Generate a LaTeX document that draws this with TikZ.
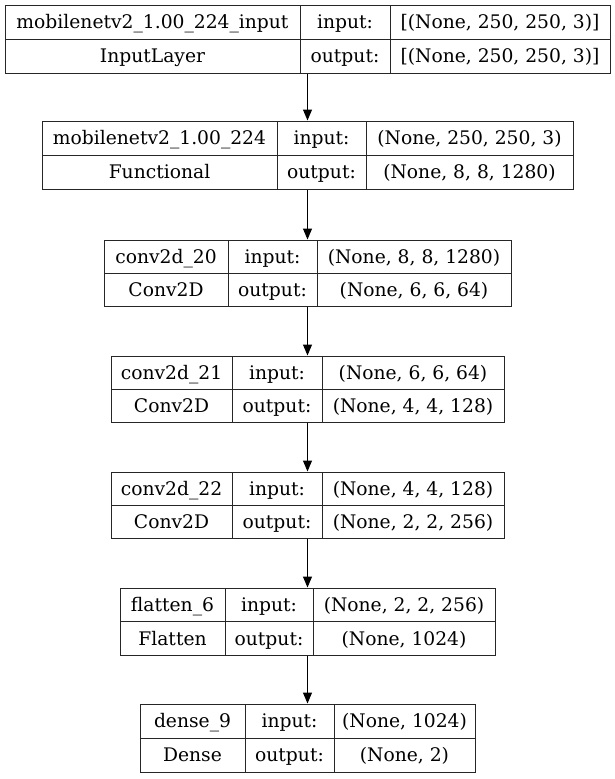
\documentclass[tikz,border=0pt]{standalone}
\usepackage{fontspec}
\setmainfont{DejaVu Serif}
\usetikzlibrary{arrows.meta}
\newcommand{\gxa}{0}\newcommand{\gya}{0}\newcommand{\gxb}{0}\newcommand{\gyb}{0}\newcommand{\gda}{0}\newcommand{\gdb}{0}
% geometry: \lgeom{x1}{y1}{x2}{y2}{d1}{d2}
\newcommand{\lgeom}[6]{\renewcommand{\gxa}{#1}\renewcommand{\gya}{#2}\renewcommand{\gxb}{#3}\renewcommand{\gyb}{#4}\renewcommand{\gda}{#5}\renewcommand{\gdb}{#6}}
% \lbox{name}{name text}{type}{in}{out}
\newcommand{\lbox}[5]{%
  \node[box, minimum width={\gxb-\gxa}, minimum height={\gyb-\gya}] (#1) at ({(\gxa+\gxb)/2},{(\gya+\gyb)/2}) {};
  \draw[divl] (\gxa,{(\gya+\gyb)/2}) -- (\gxb,{(\gya+\gyb)/2});
  \draw[divl] (\gda,\gya) -- (\gda,\gyb);
  \draw[divl] (\gdb,\gya) -- (\gdb,\gyb);
  \node[cell] (#1-n) at ({(\gxa+\gda)/2},{\gya+(\gyb-\gya)/4+6.8}) {#2};
  \node[cell] (#1-t) at ({(\gxa+\gda)/2},{\gya+3*(\gyb-\gya)/4+6.8}) {#3};
  \node[cell] (#1-il) at ({(\gda+\gdb)/2},{\gya+(\gyb-\gya)/4+6.8}) {input:};
  \node[cell] (#1-ol) at ({(\gda+\gdb)/2},{\gya+3*(\gyb-\gya)/4+6.8}) {output:};
  \node[cell] (#1-iv) at ({(\gdb+\gxb)/2},{\gya+(\gyb-\gya)/4+6.8}) {#4};
  \node[cell] (#1-ov) at ({(\gdb+\gxb)/2},{\gya+3*(\gyb-\gya)/4+6.8}) {#5};
}
\begin{document}
\begin{tikzpicture}[x=1pt,y=-1pt,
  box/.style={draw=black!85, line width=1pt, rectangle, inner sep=0pt},
  cell/.style={font=\fontsize{18.7}{20}\selectfont, inner sep=0pt, anchor=base},
  divl/.style={draw=black!85, line width=1pt},
  arr/.style={draw=black, line width=1pt, -{Triangle[width=9pt,length=11pt]}}]
\useasboundingbox (0,0) rectangle (615,779);
\lgeom{5}{5}{610}{73}{300}{390}
\lbox{b1}{mobilenetv2\_1.00\_224\_input}{InputLayer}{[(None, 250, 250, 3)]}{[(None, 250, 250, 3)]}
\lgeom{42}{121}{573}{189}{277}{366}
\lbox{b2}{mobilenetv2\_1.00\_224}{Functional}{(None, 250, 250, 3)}{(None, 8, 8, 1280)}
\lgeom{104}{240}{511}{306}{228}{317}
\lbox{b3}{conv2d\_20}{Conv2D}{(None, 8, 8, 1280)}{(None, 6, 6, 64)}
\lgeom{111}{356}{504}{422}{232}{322}
\lbox{b4}{conv2d\_21}{Conv2D}{(None, 6, 6, 64)}{(None, 4, 4, 128)}
\lgeom{111}{472}{504}{538}{232}{322}
\lbox{b5}{conv2d\_22}{Conv2D}{(None, 4, 4, 128)}{(None, 2, 2, 256)}
\lgeom{120}{588}{495}{655}{225}{313}
\lbox{b6}{flatten\_6}{Flatten}{(None, 2, 2, 256)}{(None, 1024)}
\lgeom{140}{704}{475}{772}{245}{334}
\lbox{b7}{dense\_9}{Dense}{(None, 1024)}{(None, 2)}
\draw[arr] (b1.south) -- (b2.north);
\draw[arr] (b2.south) -- (b3.north);
\draw[arr] (b3.south) -- (b4.north);
\draw[arr] (b4.south) -- (b5.north);
\draw[arr] (b5.south) -- (b6.north);
\draw[arr] (b6.south) -- (b7.north);
\end{tikzpicture}
\end{document}
